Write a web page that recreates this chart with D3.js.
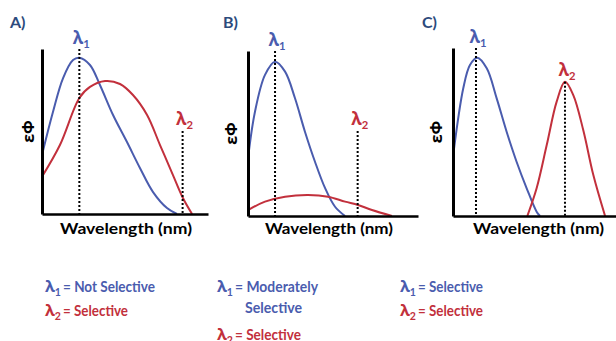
<!DOCTYPE html>
<html>
<head>
<meta charset="utf-8">
<script src="https://cdn.jsdelivr.net/npm/d3@7"></script>
<style>
  html, body { margin: 0; padding: 0; background: #fff; }
  svg { display: block; }
  text { font-family: Lato, "Open Sans", sans-serif; font-weight: bold; }
  .greek { font-family: "Open Sans", "DejaVu Sans", sans-serif; }
</style>
</head>
<body>
<svg id="chart" width="616" height="341"></svg>
<script>
// Absorbance x quantum-yield profiles (relative units, 0-100 on both axes)
const panelLetters = ["A)", "B)", "C)"];

const blueA = [[0,35.8],[6.6,61.8],[12.7,82.4],[18.7,93.3],[22.5,94.7],[28.9,90.3],[34.9,78.2],[42.8,60],[51.2,43.6],[59,27.9],[66.9,13.3],[75.3,3.6],[81.3,0]];
const redA  = [[0,22.6],[10.8,41.8],[22.5,70.3],[28.9,77],[38,80.6],[47,78.8],[54.8,72.1],[63.3,60],[71.1,41.8],[78.9,23.6],[84.9,9.7],[90.4,0]];

const blueB = [[0,35],[4.1,63.2],[10,85.5],[15.9,93.5],[21.8,87.5],[27.6,71.5],[33.5,51.1],[39.4,32.9],[45.3,17],[51.2,5.6],[57.1,0]];
const redB  = [[0,3.6],[10,8.7],[21.8,11.7],[35.3,12.7],[47.1,11.7],[57.1,8.7],[64.7,6.7],[72.9,3.6],[84.7,0]];

const blueC = [[0,36],[6.3,77.4],[10.4,91.5],[14.9,95.9],[20.7,89.5],[26.8,71.3],[32.9,51.1],[39,32.9],[45.2,16.8],[51.3,2.6],[53.4,0]];
const redC  = [[45.6,0],[51.3,16.8],[57.5,43],[63.6,69.3],[68.7,81.4],[73.8,73.3],[79.9,52.1],[86.1,24.8],[93.3,0]];

// selected excitation wavelengths and the height where each lambda2 marker starts
const lambda1 = [22.5, 15.9, 14.1];
const lambda2 = [84.7, 64.5, 68.7];
const lambda2Top = [50.3, 51.5, 81.4];

// selectivity notes under each panel
const noteBlue = ["= Not Selective", "= Moderately", "= Selective"];
const noteBlueCont = [null, "Selective", null];
const noteRed = ["= Selective", "= Selective", "= Selective"];

const colors = { blue: "#4a5cae", red: "#c2303c", letter: "#2c4a7c" };

const frames = [
  { left: 42,  right: 208, top: 49, bottom: 214, letterX: 10,  titleGap: 8,  wlX: 60,  noteX: 45 },
  { left: 248, right: 418, top: 51, bottom: 216, letterX: 223, titleGap: 11, wlX: 265, noteX: 217 },
  { left: 453, right: 616, top: 48, bottom: 216, letterX: 422, titleGap: 11, wlX: 473, noteX: 400 }
];
const series = [[blueA, redA], [blueB, redB], [blueC, redC]];

// measured text widths
const wlWidth = [132, 128, 131];
const noteBlueWidth = [92, 83, 65];
const noteRedWidth = [65, 66, 65];

const svg = d3.select("#chart");

function lambdaText(sel, sub, color, x, y, anchor, size) {
  const t = sel.append("text").attr("x", x).attr("y", y)
    .attr("text-anchor", anchor).attr("font-size", size).attr("fill", color);
  t.append("tspan").attr("class", "greek").text("λ");
  t.append("tspan").attr("font-size", size * 0.66).attr("dy", 4).text(sub);
  return t;
}

frames.forEach((f, i) => {
  const x = d3.scaleLinear().domain([0, 100]).range([f.left, f.right]);
  const y = d3.scaleLinear().domain([0, 100]).range([f.bottom, f.bottom - 165]);
  const g = svg.append("g");

  g.append("clipPath").attr("id", "clip" + i).append("rect")
    .attr("x", f.left).attr("y", 0).attr("width", f.right - f.left).attr("height", f.bottom);

  // panel letter
  g.append("text").attr("x", f.letterX).attr("y", 28)
    .attr("font-size", 16).attr("fill", colors.letter).text(panelLetters[i]);

  const line = d3.line().x(d => x(d[0])).y(d => y(d[1]))
    .curve(d3.curveCatmullRom.alpha(0.5));

  // spectra
  const [b, r] = series[i];
  g.append("path").attr("d", line(b)).attr("fill", "none").attr("clip-path", `url(#clip${i})`)
    .attr("stroke", colors.blue).attr("stroke-width", 2);
  g.append("path").attr("d", line(r)).attr("fill", "none").attr("clip-path", `url(#clip${i})`)
    .attr("stroke", colors.red).attr("stroke-width", 2);

  // dotted wavelength markers
  g.append("line").attr("x1", x(lambda1[i])).attr("x2", x(lambda1[i]))
    .attr("y1", f.top).attr("y2", f.bottom)
    .attr("stroke", "#000").attr("stroke-width", 2).attr("stroke-dasharray", "2,2");
  g.append("line").attr("x1", x(lambda2[i])).attr("x2", x(lambda2[i]))
    .attr("y1", y(lambda2Top[i])).attr("y2", f.bottom)
    .attr("stroke", "#000").attr("stroke-width", 2).attr("stroke-dasharray", "2,2");

  // lambda labels
  lambdaText(g, "1", colors.blue, x(lambda1[i]) + 2, f.top - 5, "middle", 17);
  lambdaText(g, "2", colors.red, x(lambda2[i]) + 2, y(lambda2Top[i]) - 6, "middle", 17);

  // axes (no ticks)
  const xAxis = d3.axisBottom(x).tickValues([]).tickSizeOuter(0);
  const yAxis = d3.axisLeft(y.copy().range([f.bottom, f.top])).tickValues([]).tickSizeOuter(0);
  g.append("g").attr("transform", `translate(0,${f.bottom})`).call(xAxis)
    .select(".domain").attr("stroke", "#000").attr("stroke-width", 2.5);
  g.append("g").attr("transform", `translate(${f.left},0)`).call(yAxis)
    .select(".domain").attr("stroke", "#000").attr("stroke-width", 3);

  // axis titles
  g.append("text").attr("class", "greek")
    .attr("transform", `translate(${f.left - f.titleGap},${(f.top + f.bottom) / 2}) rotate(-90)`)
    .attr("text-anchor", "middle").attr("font-size", 16).attr("fill", "#000").text("εΦ");
  g.append("text").attr("x", f.wlX).attr("y", 234)
    .attr("font-size", 15.5).attr("fill", "#000")
    .attr("textLength", wlWidth[i]).attr("lengthAdjust", "spacingAndGlyphs")
    .text("Wavelength (nm)");

  // selectivity notes
  let ly = 292;
  lambdaText(g, "1", colors.blue, f.noteX, ly, "start", 16);
  g.append("text").attr("x", f.noteX + 18).attr("y", ly).attr("font-size", 16).attr("fill", colors.blue)
    .attr("textLength", noteBlueWidth[i]).attr("lengthAdjust", "spacingAndGlyphs").text(noteBlue[i]);
  if (noteBlueCont[i]) {
    ly += 21;
    g.append("text").attr("x", f.noteX + 28).attr("y", ly).attr("font-size", 16).attr("fill", colors.blue)
      .attr("textLength", 57).attr("lengthAdjust", "spacingAndGlyphs").text(noteBlueCont[i]);
    ly += 27;
  } else {
    ly += 24;
  }
  lambdaText(g, "2", colors.red, f.noteX, ly, "start", 16);
  g.append("text").attr("x", f.noteX + 18).attr("y", ly).attr("font-size", 16).attr("fill", colors.red)
    .attr("textLength", noteRedWidth[i]).attr("lengthAdjust", "spacingAndGlyphs").text(noteRed[i]);
});
</script>
</body>
</html>
